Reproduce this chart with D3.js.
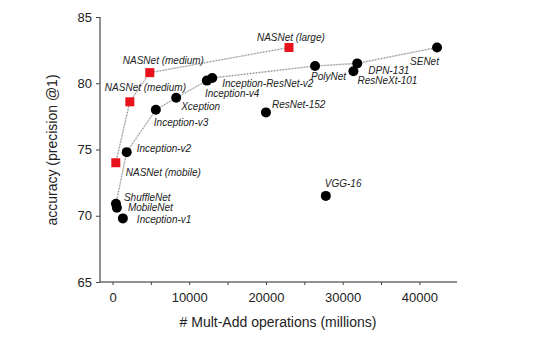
<!DOCTYPE html>
<html>
<head>
<meta charset="utf-8">
<script src="https://cdn.jsdelivr.net/npm/d3@7"></script>
<style>
  body { margin: 0; background: #fff; }
  svg text { font-family: "Liberation Sans", Arial, sans-serif; fill: #222; }
</style>
</head>
<body>
<div id="chart"></div>
<script>
// black models
const netNames = ["SENet", "DPN-131", "ResNeXt-101", "PolyNet", "Inception-ResNet-v2", "Inception-v4",
  "Xception", "Inception-v3", "ResNet-152", "Inception-v2", "ShuffleNet", "MobileNet", "Inception-v1", "VGG-16"];
const netOps = [42300, 31900, 31400, 26400, 13000, 12300, 8300, 5650, 20000, 1850, 450, 570, 1350, 27800];
const netAcc = [82.7, 81.5, 80.9, 81.3, 80.4, 80.2, 78.9, 78.0, 77.8, 74.8, 70.9, 70.6, 69.8, 71.5];

// NASNet models (red)
const nasNames = ["NASNet (mobile)", "NASNet (medium)", "NASNet (medium)", "NASNet (large)"];
const nasOps = [430, 2260, 4860, 23000];
const nasAcc = [74.0, 78.6, 80.8, 82.7];

// frontier through the black models
const frontier = ["ShuffleNet", "Inception-v2", "Inception-v3", "Xception", "Inception-v4",
  "Inception-ResNet-v2", "PolyNet", "DPN-131", "SENet"];

const xTicks = [0, 10000, 20000, 30000, 40000];
const yTicks = [65, 70, 75, 80, 85];

// label offsets from the marker (px)
const netLabelOff = {
  "SENet": [-27, 14], "DPN-131": [11, 7], "ResNeXt-101": [4, 9], "PolyNet": [-4, 10],
  "Inception-ResNet-v2": [10, 6], "Inception-v4": [-2, 13], "Xception": [5, 9],
  "Inception-v3": [-2, 13], "ResNet-152": [6, -8], "Inception-v2": [10, -4],
  "ShuffleNet": [8, -6], "MobileNet": [11, 0], "Inception-v1": [14, 1], "VGG-16": [-1, -12]
};
const nasLabelOff = [[10, 10], [-25, -14], [-27, -12], [-32, -10]];

const w = 539, h = 344;
const svg = d3.select("#chart").append("svg").attr("width", w).attr("height", h);

const x = d3.scaleLinear().domain([-1630, 44900]).range([100, 457]);
const y = d3.scaleLinear().domain([65, 85]).range([282, 17]);

// axes
const xAxis = d3.axisBottom(x).tickValues(d3.range(0, 45000, 5000)).tickSize(3)
  .tickFormat(d => xTicks.includes(d) ? d : "");
const gx = svg.append("g").attr("transform", "translate(0,282)").call(xAxis);
gx.select(".domain").attr("d", "M100,0H457").attr("stroke", "#222");
gx.selectAll(".tick line").attr("stroke", "#444");
gx.selectAll(".tick text").attr("font-size", 13).attr("dy", "1.05em");

const yAxis = d3.axisLeft(y).tickValues(yTicks).tickSize(4);
const gy = svg.append("g").attr("transform", "translate(100,0)").call(yAxis);
gy.select(".domain").attr("d", "M0,17V282").attr("stroke", "#222");
gy.selectAll(".tick line").attr("stroke", "#444");
gy.selectAll(".tick text").attr("font-size", 13).attr("x", -8);

svg.append("text").attr("x", 278).attr("y", 327).attr("text-anchor", "middle")
  .attr("font-size", 14).text("# Mult-Add operations (millions)");
svg.append("text").attr("transform", "translate(57,150) rotate(-90)").attr("text-anchor", "middle")
  .attr("font-size", 14).text("accuracy (precision @1)");

// connecting lines
const line = d3.line().x(d => x(d[0])).y(d => y(d[1]));
const frontierPts = frontier.map(n => { const i = netNames.indexOf(n); return [netOps[i], netAcc[i]]; });
const nasPts = nasOps.map((v, i) => [v, nasAcc[i]]);
[frontierPts, nasPts].forEach(pts => {
  svg.append("path").attr("d", line(pts)).attr("fill", "none").attr("stroke", "#dcdcdc").attr("stroke-width", 1.6);
  svg.append("path").attr("d", line(pts)).attr("fill", "none").attr("stroke", "#666")
    .attr("stroke-width", 0.8).attr("stroke-dasharray", "1,2");
});

// black circles
svg.selectAll("circle.net").data(netNames).enter().append("circle")
  .attr("cx", (d, i) => x(netOps[i])).attr("cy", (d, i) => y(netAcc[i]))
  .attr("r", 5).attr("fill", "#000");

// red squares
const sq = 9;
svg.selectAll("rect.nas").data(nasNames).enter().append("rect")
  .attr("x", (d, i) => x(nasOps[i]) - sq / 2).attr("y", (d, i) => y(nasAcc[i]) - sq / 2)
  .attr("width", sq).attr("height", sq).attr("fill", "#e8121c");

// labels
svg.selectAll("text.netlab").data(netNames).enter().append("text")
  .attr("x", (d, i) => x(netOps[i]) + netLabelOff[d][0])
  .attr("y", (d, i) => y(netAcc[i]) + netLabelOff[d][1])
  .attr("dy", "0.35em").attr("font-size", 10).attr("font-style", "italic").text(d => d);
svg.selectAll("text.naslab").data(nasNames).enter().append("text")
  .attr("x", (d, i) => x(nasOps[i]) + nasLabelOff[i][0])
  .attr("y", (d, i) => y(nasAcc[i]) + nasLabelOff[i][1])
  .attr("dy", "0.35em").attr("font-size", 10).attr("font-style", "italic").text(d => d);
</script>
</body>
</html>
